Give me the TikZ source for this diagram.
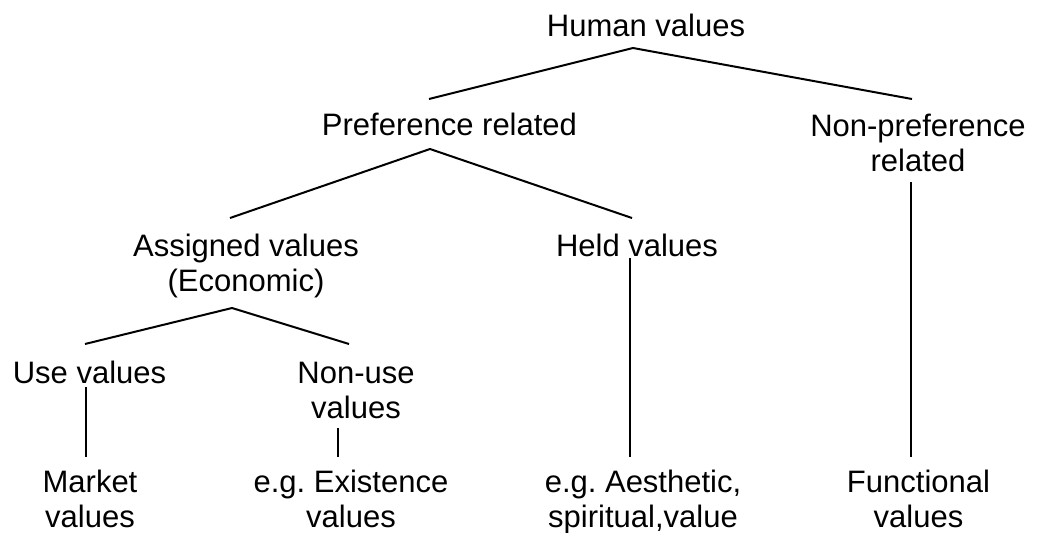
\documentclass[tikz,border=0pt]{standalone}
\usepackage{fontspec}
\setmainfont{Liberation Sans}
\frenchspacing
\begin{document}
\begin{tikzpicture}[x=1pt,y=-1pt,
  lbl/.style={inner sep=0pt,anchor=base,align=center,font=\fontsize{31}{35}\selectfont},
  link/.style={line width=2pt,line cap=butt,line join=miter}]
\useasboundingbox (0,0) rectangle (1037,533);

% labels of the tree (base anchor = baseline of the last line)
\node[lbl] (hv) at (646,36)    {Human values};
\node[lbl] (pr) at (449.5,135) {Preference related};
\node[lbl] (np) at (918,171)   {Non-preference\\related};
\node[lbl] (av) at (246,291)   {Assigned values\\(Economic)};
\node[lbl] (hd) at (637,256)   {Held values};
\node[lbl] (uv) at (89.5,383)  {Use values};
\node[lbl] (nu) at (356,418)   {Non-use\\values};
\node[lbl] (mk) at (90,527)    {Market\\values};
\node[lbl] (ex) at (351,527)   {e.g. Existence\\values};
\node[lbl] (ae) at (643,527)   {e.g. Aesthetic,\\spiritual,value};
\node[lbl] (fn) at (918.5,527) {Functional\\values};

% branches
\draw[link] ([shift={(-20.5,-36)}]pr.base) -- ([shift={(-13,12)}]hv.base) -- ([shift={(-6,-72)}]np.base);
\draw[link] ([shift={(-16,-73)}]av.base) -- ([shift={(-19.5,14)}]pr.base) -- ([shift={(-5,-38)}]hd.base);
\draw[link] ([shift={(-4.5,-39)}]uv.base) -- ([shift={(-14,17)}]av.base) -- ([shift={(-7,-74)}]nu.base);
\draw[link] ([shift={(-3.5,4)}]uv.base) -- ([shift={(-4,-70)}]mk.base);
\draw[link] ([shift={(-18,10)}]nu.base) -- ([shift={(-13,-70)}]ex.base);
\draw[link] ([shift={(-7,2)}]hd.base) -- ([shift={(-13,-70)}]ae.base);
\draw[link] ([shift={(-7,11)}]np.base) -- ([shift={(-7.5,-70)}]fn.base);
\end{tikzpicture}
\end{document}
